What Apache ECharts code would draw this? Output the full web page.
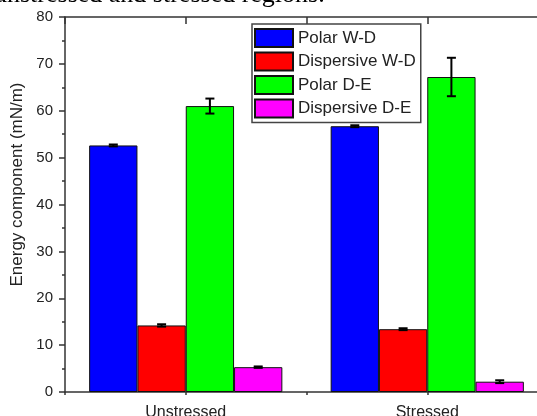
<!DOCTYPE html>
<html>
<head>
<meta charset="utf-8">
<script src="https://cdn.jsdelivr.net/npm/echarts@6/dist/echarts.min.js"></script>
<style>
html,body{margin:0;padding:0;background:#fff;}
#c{width:537px;height:416px;}
</style>
</head>
<body>
<div id="c"></div>
<script>
const categories = ['Unstressed', 'Stressed'];
const seriesNames = ['Polar W-D', 'Dispersive W-D', 'Polar D-E', 'Dispersive D-E'];
const polarWD = [52.6, 56.7];
const polarWDErr = [0.2, 0.2];
const dispersiveWD = [14.2, 13.4];
const dispersiveWDErr = [0.25, 0.2];
const polarDE = [61.0, 67.2];
const polarDEErr = [1.6, 4.1];
const dispersiveDE = [5.3, 2.2];
const dispersiveDEErr = [0.15, 0.3];
const yTicks = [0, 10, 20, 30, 40, 50, 60, 70, 80];
const titleText = 'unstressed and stressed regions.';

const values = [polarWD, dispersiveWD, polarDE, dispersiveDE];
const errs = [polarWDErr, dispersiveWDErr, polarDEErr, dispersiveDEErr];
const colors = ['#0000FF', '#FF0000', '#00FF00', '#FF00FF'];
const FONT = 'Liberation Sans, Arial, sans-serif';
const BAR_FRAC = 0.2;

const errData = [];
values.forEach((arr, s) => arr.forEach((v, ci) => errData.push([ci, v, errs[s][ci], s])));

const chart = echarts.init(document.getElementById('c'), null, {renderer: 'canvas'});
const axisLineStyle = {color: '#333', width: 1.5};
chart.setOption({
  animation: false,
  backgroundColor: '#fff',
  title: {
    text: titleText,
    left: -6,
    top: -18,
    padding: 0,
    textStyle: {fontFamily: 'Liberation Serif, Times New Roman, serif', fontSize: 26, fontWeight: 'normal', color: '#000'}
  },
  legend: {
    data: seriesNames,
    orient: 'vertical',
    left: 252,
    top: 24,
    itemWidth: 38,
    itemHeight: 18,
    itemGap: 3.5,
    padding: [4, 5, 4, 2],
    borderColor: '#444',
    borderWidth: 1.5,
    icon: 'rect',
    textStyle: {fontFamily: FONT, fontSize: 17, color: '#222'}
  },
  grid: {left: 65, top: 17, width: 483, bottom: 24, containLabel: false, outerBoundsMode: 'none'},
  xAxis: [
    {
      type: 'category', data: categories, position: 'bottom', boundaryGap: true,
      axisLine: {onZero: false, lineStyle: axisLineStyle},
      axisTick: {alignWithLabel: true, length: 8, lineStyle: axisLineStyle},
      axisLabel: {fontFamily: FONT, fontSize: 16, color: '#222', margin: 13}
    },
    {
      type: 'value', position: 'bottom', min: 0.5, max: 2.5, interval: 0.5,
      axisLine: {show: false, onZero: false},
      axisTick: {show: true, length: 3, lineStyle: axisLineStyle},
      axisLabel: {show: false}, splitLine: {show: false}
    },
    {
      type: 'value', position: 'top', min: 0.5, max: 2.5, interval: 0.5,
      axisLine: {show: true, onZero: false, lineStyle: axisLineStyle},
      axisTick: {show: true, inside: true, length: 7, lineStyle: axisLineStyle},
      axisLabel: {show: false}, splitLine: {show: false}
    }
  ],
  yAxis: {
    type: 'value', min: yTicks[0], max: yTicks[yTicks.length - 1], interval: yTicks[1] - yTicks[0],
    name: 'Energy component (mN/m)',
    nameLocation: 'middle',
    nameGap: 37,
    nameTextStyle: {fontFamily: FONT, fontSize: 17, color: '#222', padding: [0, 0, 0, 40]},
    axisLine: {show: true, onZero: false, lineStyle: axisLineStyle},
    axisTick: {show: true, length: 6, lineStyle: axisLineStyle},
    minorTick: {show: true, splitNumber: 2, length: 3, lineStyle: axisLineStyle},
    axisLabel: {fontFamily: FONT, fontSize: 15, color: '#222', margin: 12},
    splitLine: {show: false}
  },
  series: seriesNames.map((name, s) => ({
    name: name,
    type: 'bar',
    xAxisIndex: 0,
    data: values[s],
    barWidth: (BAR_FRAC * 100) + '%',
    barGap: '0%',
    itemStyle: {color: colors[s], borderColor: '#111', borderWidth: 1}
  })).concat([{
    type: 'custom',
    name: 'errors',
    xAxisIndex: 0,
    z: 10,
    data: errData,
    encode: {x: 0, y: 1},
    renderItem: function (params, api) {
      const ci = api.value(0), v = api.value(1), e = api.value(2), s = api.value(3);
      const band = api.size([1, 0])[0];
      const bw = band * BAR_FRAC;
      const c = api.coord([ci, v]);
      const x = c[0] + (s - 1.5) * bw;
      const yt = api.coord([ci, v + e])[1];
      const yb = api.coord([ci, v - e])[1];
      const cap = 4.5;
      const st = {stroke: '#000', lineWidth: 2};
      return {
        type: 'group',
        children: [
          {type: 'line', shape: {x1: x, y1: yt, x2: x, y2: yb}, style: st},
          {type: 'line', shape: {x1: x - cap, y1: yt, x2: x + cap, y2: yt}, style: st},
          {type: 'line', shape: {x1: x - cap, y1: yb, x2: x + cap, y2: yb}, style: st}
        ]
      };
    }
  }])
});
</script>
</body>
</html>
